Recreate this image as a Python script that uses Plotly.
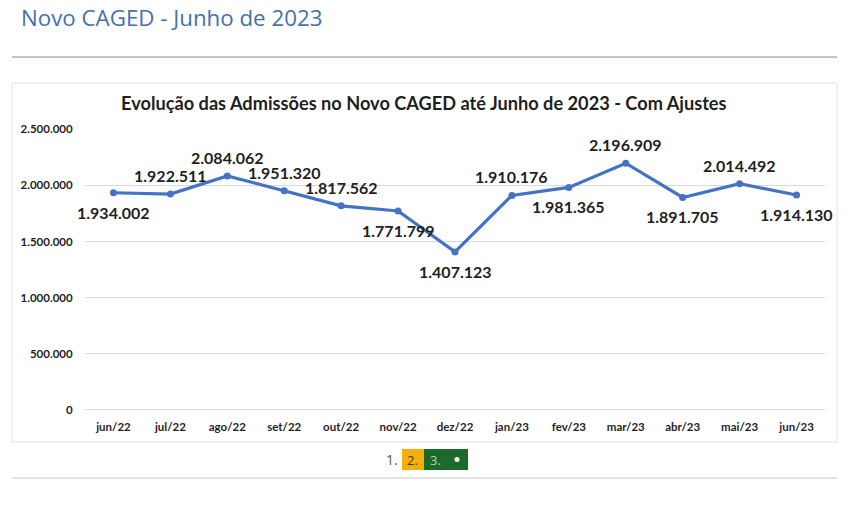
import plotly.graph_objects as go

# dados do CAGED (admissões com ajustes)
meses = ["jun/22", "jul/22", "ago/22", "set/22", "out/22", "nov/22", "dez/22",
         "jan/23", "fev/23", "mar/23", "abr/23", "mai/23", "jun/23"]
admissoes = [1934002, 1922511, 2084062, 1951320, 1817562, 1771799, 1407123,
             1910176, 1981365, 2196909, 1891705, 2014492, 1914130]
rotulo_abaixo = [True, False, False, False, False, True, True,
                 False, True, False, True, False, True]
ticks_y = [0, 500000, 1000000, 1500000, 2000000, 2500000]

W, H = 864, 506
SY = 0.972  # compensa o achatamento vertical visto na captura

px = lambda x: x / W
py = lambda y: 1 - (H / 2 + (y - H / 2) / SY) / H

def fmt(v):
    return f"{v:,}".replace(",", ".")

fig = go.Figure()
fig.add_trace(go.Scatter(
    x=meses, y=admissoes, mode="lines+markers",
    line=dict(color="#4472C4", width=3.2),
    marker=dict(color="#4472C4", size=7),
    hoverinfo="x+y", showlegend=False,
))

# rotulos de dados
for m, v, b in zip(meses, admissoes, rotulo_abaixo):
    fig.add_annotation(x=m, y=v, text=fmt(v), showarrow=False,
                       yshift=-19.5 if b else 18.5,
                       font=dict(family="Lato", size=16, color="#1f1f1f", weight="bold"))

shapes = [
    # linha abaixo do titulo da pagina
    dict(type="line", xref="paper", yref="paper", x0=px(12), x1=px(837), y0=py(57), y1=py(57),
         line=dict(color="#8a8a8a", width=1)),
    # cartao do grafico
    dict(type="rect", xref="paper", yref="paper", x0=px(12), x1=px(837), y0=py(441), y1=py(83),
         line=dict(color="#e2e2e2", width=1)),
    # linha inferior
    dict(type="line", xref="paper", yref="paper", x0=px(12), x1=px(837), y0=py(477), y1=py(477),
         line=dict(color="#c8c8c8", width=1)),
    # paginacao
    dict(type="rect", xref="paper", yref="paper", x0=px(402), x1=px(424), y0=py(469), y1=py(448),
         fillcolor="#f6ae0b", line=dict(width=0)),
    dict(type="rect", xref="paper", yref="paper", x0=px(424), x1=px(468), y0=py(469), y1=py(448),
         fillcolor="#1c6a2b", line=dict(width=0)),
    dict(type="circle", xref="paper", yref="paper", x0=px(454.5), x1=px(459.5), y0=py(461), y1=py(456),
         fillcolor="#ffffff", line=dict(width=0)),
]

annots = [
    dict(text="Novo CAGED - Junho de 2023", x=px(19), y=py(18), xanchor="left", yanchor="middle",
         font=dict(family="Open Sans", size=22.3, color="#4470ad")),
    dict(text="Evolução das Admissões no Novo CAGED até Junho de 2023 - Com Ajustes",
         x=px(424), y=py(103), xanchor="center", yanchor="middle",
         font=dict(family="Lato", size=18.2, color="#1f1f1f", weight="bold")),
    dict(text="1.", x=px(392), y=py(459), xanchor="center", yanchor="middle",
         font=dict(family="Open Sans", size=14, color="#555555")),
    dict(text="2.", x=px(412), y=py(459), xanchor="center", yanchor="middle",
         font=dict(family="Open Sans", size=13, color="#3d4512")),
    dict(text="3.", x=px(435), y=py(459), xanchor="center", yanchor="middle",
         font=dict(family="Open Sans", size=13, color="#b9cdb9")),
]
for a in annots:
    a.update(xref="paper", yref="paper", showarrow=False)
    fig.add_annotation(**a)

fig.update_layout(
    width=W, height=H,
    margin=dict(l=0, r=0, t=0, b=0),
    paper_bgcolor="white", plot_bgcolor="white",
    separators=",.",
    shapes=shapes,
    xaxis=dict(domain=[px(85), px(825)], range=[-0.5, 12.5], showgrid=False,
               showline=False, zeroline=False, ticks="outside", ticklen=6,
               tickcolor="rgba(0,0,0,0)",
               tickfont=dict(family="Lato", size=11.5, color="#1f1f1f", weight="bold")),
    yaxis=dict(domain=[py(409), py(129)], range=[0, 2500000], tickvals=ticks_y,
               tickformat=",.0f", showgrid=True, gridcolor="#d9d9d9", gridwidth=1,
               zeroline=True, zerolinecolor="#d9d9d9", zerolinewidth=1, showline=False,
               ticks="outside", ticklen=9, tickcolor="rgba(0,0,0,0)",
               tickfont=dict(family="Lato", size=11.5, color="#1f1f1f", weight="bold")),
)

fig.write_html("out.html", config={"displayModeBar": False},
               post_script="document.body.style.margin='0';")
